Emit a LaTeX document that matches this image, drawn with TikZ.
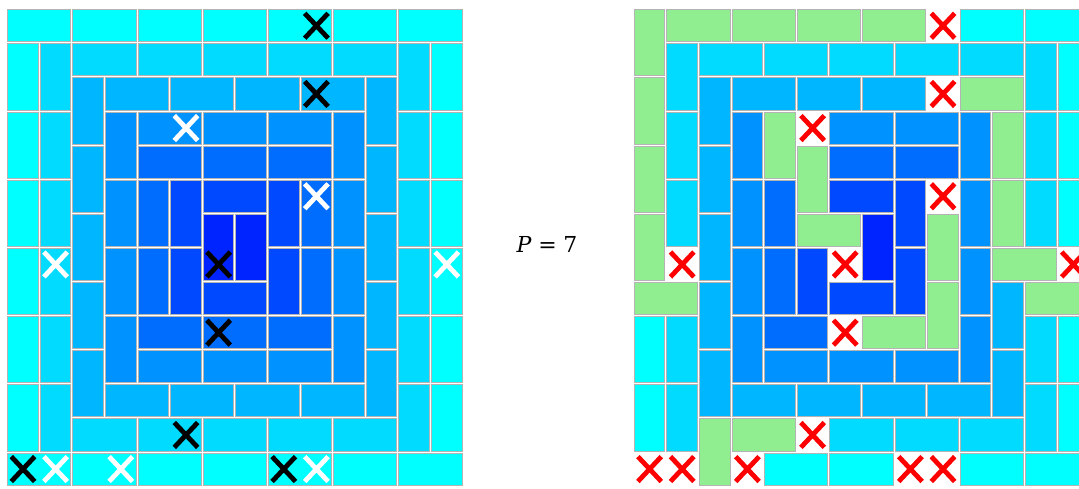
\documentclass[tikz,border=0pt]{standalone}
\usepackage{fontspec}
\newfontfamily\dvs{DejaVu Serif}
\definecolor{rz}{RGB}{0,255,255}
\definecolor{ra}{RGB}{0,219,255}
\definecolor{rb}{RGB}{0,182,255}
\definecolor{rc}{RGB}{0,146,255}
\definecolor{rd}{RGB}{0,109,255}
\definecolor{re}{RGB}{0,73,255}
\definecolor{rf}{RGB}{0,36,255}
\definecolor{lg}{RGB}{144,238,144}
\definecolor{bord}{RGB}{180,180,180}
\definecolor{redx}{RGB}{255,0,0}
\tikzset{
  dombox/.style={draw=bord, line width=0.9pt},
  xmark/.style={line width=4.8pt},
  ptext/.style={inner sep=0pt, font=\dvs\fontsize{22}{26}\selectfont}
}
\newcommand\domH[4]{\path[dombox,fill=#4] ({#1+32.6*#2+1},{8.7+34.1*#3+1}) rectangle ({#1+32.6*(#2+2)-1},{8.7+34.1*(#3+1)-1});}
\newcommand\domV[4]{\path[dombox,fill=#4] ({#1+32.6*#2+1},{8.7+34.1*#3+1}) rectangle ({#1+32.6*(#2+1)-1},{8.7+34.1*(#3+2)-1});}
\newcommand\xmk[4]{\draw[xmark,#4] ({#1+32.6*#2+4.6},{8.7+34.1*#3+4.6}) -- ({#1+32.6*(#2+1)-4.6},{8.7+34.1*(#3+1)-4.6}) ({#1+32.6*(#2+1)-4.6},{8.7+34.1*#3+4.6}) -- ({#1+32.6*#2+4.6},{8.7+34.1*(#3+1)-4.6});}
\def\LX{6.7}
\def\RX{633.3}
\begin{document}
\begin{tikzpicture}[x=1pt,y=-1pt]
\useasboundingbox (0,0) rectangle (1079,488);
\clip (0,0) rectangle (1079,488);
\fill[white] (0,0) rectangle (1079,488);
% ---------------- left grid ----------------
\foreach \c/\r in {0/0,2/0,4/0,6/0,8/0,10/0,12/0,0/13,2/13,4/13,6/13,8/13,10/13,12/13} {\domH{\LX}{\c}{\r}{rz}}
\foreach \c/\r in {0/1,0/3,0/5,0/7,0/9,0/11,13/1,13/3,13/5,13/7,13/9,13/11} {\domV{\LX}{\c}{\r}{rz}}
\foreach \c/\r in {2/1,4/1,6/1,8/1,10/1,2/12,4/12,6/12,8/12,10/12} {\domH{\LX}{\c}{\r}{ra}}
\foreach \c/\r in {1/1,1/3,1/5,1/7,1/9,1/11,12/1,12/3,12/5,12/7,12/9,12/11} {\domV{\LX}{\c}{\r}{ra}}
\foreach \c/\r in {3/2,5/2,7/2,9/2,3/11,5/11,7/11,9/11} {\domH{\LX}{\c}{\r}{rb}}
\foreach \c/\r in {2/2,2/4,2/6,2/8,2/10,11/2,11/4,11/6,11/8,11/10} {\domV{\LX}{\c}{\r}{rb}}
\foreach \c/\r in {4/3,6/3,8/3,4/10,6/10,8/10} {\domH{\LX}{\c}{\r}{rc}}
\foreach \c/\r in {3/3,3/5,3/7,3/9,10/3,10/5,10/7,10/9} {\domV{\LX}{\c}{\r}{rc}}
\foreach \c/\r in {4/4,6/4,8/4,4/9,6/9,8/9} {\domH{\LX}{\c}{\r}{rd}}
\foreach \c/\r in {4/5,4/7,9/5,9/7} {\domV{\LX}{\c}{\r}{rd}}
\foreach \c/\r in {6/5,6/8} {\domH{\LX}{\c}{\r}{re}}
\foreach \c/\r in {5/5,5/7,8/5,8/7} {\domV{\LX}{\c}{\r}{re}}
\foreach \c/\r in {6/6,7/6} {\domV{\LX}{\c}{\r}{rf}}
\foreach \c/\r in {9/0,9/2,6/7,6/9,5/12,0/13,8/13} {\xmk{\LX}{\c}{\r}{black}}
\foreach \c/\r in {5/3,9/5,1/7,13/7,1/13,3/13,9/13} {\xmk{\LX}{\c}{\r}{white}}
% ---------------- label ----------------
\node[ptext] (plabel) at (547,244) {\textit{P}\hspace{0.3em}=\hspace{0.3em}7};
% ---------------- right grid ----------------
\foreach \c/\r in {10/0,12/0,12/13,10/13,6/13,4/13} {\domH{\RX}{\c}{\r}{rz}}
\foreach \c/\r in {13/1,13/3,13/5,13/9,13/11,0/9,0/11} {\domV{\RX}{\c}{\r}{rz}}
\foreach \c/\r in {2/1,4/1,6/1,8/1,10/1,6/12,8/12,10/12} {\domH{\RX}{\c}{\r}{ra}}
\foreach \c/\r in {1/1,1/3,1/5,1/9,1/11,12/1,12/3,12/5,12/9,12/11} {\domV{\RX}{\c}{\r}{ra}}
\foreach \c/\r in {3/2,5/2,7/2,3/11,5/11,7/11,9/11} {\domH{\RX}{\c}{\r}{rb}}
\foreach \c/\r in {2/2,2/4,2/6,2/8,2/10,11/8,11/10} {\domV{\RX}{\c}{\r}{rb}}
\foreach \c/\r in {6/3,8/3,4/10,6/10,8/10} {\domH{\RX}{\c}{\r}{rc}}
\foreach \c/\r in {3/3,3/5,3/7,3/9,10/3,10/5,10/7,10/9} {\domV{\RX}{\c}{\r}{rc}}
\foreach \c/\r in {6/4,8/4,4/9} {\domH{\RX}{\c}{\r}{rd}}
\foreach \c/\r in {4/5,4/7} {\domV{\RX}{\c}{\r}{rd}}
\foreach \c/\r in {6/5,6/8} {\domH{\RX}{\c}{\r}{re}}
\foreach \c/\r in {5/7,8/5,8/7} {\domV{\RX}{\c}{\r}{re}}
\foreach \c/\r in {7/6} {\domV{\RX}{\c}{\r}{rf}}
\foreach \c/\r in {0/8,1/0,3/0,5/0,7/0,10/2,11/7,12/8,5/6,7/9,3/12} {\domH{\RX}{\c}{\r}{lg}}
\foreach \c/\r in {0/0,0/2,0/4,0/6,11/3,11/5,4/3,5/4,9/6,9/8,2/12} {\domV{\RX}{\c}{\r}{lg}}
\foreach \c/\r in {9/0,9/2,5/3,9/5,1/7,6/7,13/7,6/9,5/12,0/13,1/13,3/13,8/13,9/13} {\xmk{\RX}{\c}{\r}{redx}}
\end{tikzpicture}
\end{document}
